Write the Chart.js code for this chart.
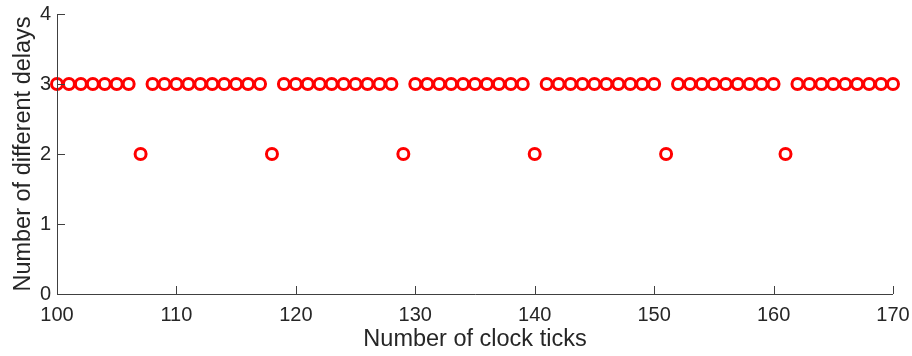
<!DOCTYPE html>
<html>
<head>
<meta charset="utf-8">
<script src="https://cdn.jsdelivr.net/npm/chart.js@4"></script>
<style>
  html, body { margin: 0; padding: 0; background: #fff; }
  #wrap { width: 912px; height: 356px; }
</style>
</head>
<body>
<div id="wrap"><canvas id="delayChart" width="912" height="356"></canvas></div>
<script>
// clock ticks 100..170 and number of different delays at each
const clockTicks = [100, 101, 102, 103, 104, 105, 106, 107, 108, 109,
  110, 111, 112, 113, 114, 115, 116, 117, 118, 119,
  120, 121, 122, 123, 124, 125, 126, 127, 128, 129,
  130, 131, 132, 133, 134, 135, 136, 137, 138, 139,
  140, 141, 142, 143, 144, 145, 146, 147, 148, 149,
  150, 151, 152, 153, 154, 155, 156, 157, 158, 159,
  160, 161, 162, 163, 164, 165, 166, 167, 168, 169, 170];
const delayCounts = [3, 3, 3, 3, 3, 3, 3, 2, 3, 3,
  3, 3, 3, 3, 3, 3, 3, 3, 2, 3,
  3, 3, 3, 3, 3, 3, 3, 3, 3, 2,
  3, 3, 3, 3, 3, 3, 3, 3, 3, 3,
  2, 3, 3, 3, 3, 3, 3, 3, 3, 3,
  3, 2, 3, 3, 3, 3, 3, 3, 3, 3,
  3, 2, 3, 3, 3, 3, 3, 3, 3, 3, 3];
const xTicks = [100, 110, 120, 130, 140, 150, 160, 170];
const yTicks = [0, 1, 2, 3, 4];

const axisColor = "#404040";
const textColor = "#262626";
const fontFamily = "'Liberation Sans', Arial, Helvetica, sans-serif";

// matlab-like inward tick marks
const inwardTicks = {
  id: "inwardTicks",
  afterDatasetsDraw(chart) {
    const ctx = chart.ctx;
    const x = chart.scales.x;
    const y = chart.scales.y;
    ctx.save();
    ctx.strokeStyle = axisColor;
    ctx.lineWidth = 1;
    ctx.beginPath();
    ctx.moveTo(x.left + 0.5, y.top);
    ctx.lineTo(x.left + 0.5, y.bottom + 0.5);
    ctx.lineTo(x.right, y.bottom + 0.5);
    xTicks.forEach((v) => {
      const px = Math.round(x.getPixelForValue(v)) + 0.5;
      ctx.moveTo(px, y.bottom);
      ctx.lineTo(px, y.bottom - 8);
    });
    yTicks.forEach((v) => {
      const py = Math.round(y.getPixelForValue(v)) + 0.5;
      ctx.moveTo(x.left, py);
      ctx.lineTo(x.left + 8, py);
    });
    ctx.stroke();
    ctx.restore();
  },
};

const points = clockTicks.map((t, i) => ({ x: t, y: delayCounts[i] }));

new Chart(document.getElementById("delayChart"), {
  type: "scatter",
  data: {
    datasets: [
      {
        data: points,
        pointRadius: 5.5,
        pointBorderWidth: 3,
        pointBorderColor: "#ff0000",
        pointBackgroundColor: "rgba(0,0,0,0)",
        pointHoverRadius: 5.5,
      },
    ],
  },
  options: {
    responsive: false,
    animation: false,
    clip: false,
    layout: { padding: { top: 14, right: 19, bottom: 0, left: 0 } },
    plugins: { legend: { display: false }, tooltip: { enabled: false } },
    scales: {
      x: {
        type: "linear",
        min: 100,
        max: 170,
        afterBuildTicks: (s) => { s.ticks = xTicks.map((v) => ({ value: v })); },
        afterFit: (s) => { s.height = 62; s.paddingLeft = 0; s.paddingRight = 0; },
        grid: { display: false, drawTicks: false },
        border: { display: false },
        ticks: { color: textColor, padding: 9, font: { family: fontFamily, size: 20 }, maxRotation: 0 },
        title: {
          display: true,
          text: "Number of clock ticks",
          color: textColor,
          font: { family: fontFamily, size: 23.5 },
          padding: { top: 0, bottom: 2 },
        },
      },
      y: {
        min: 0,
        max: 4,
        afterBuildTicks: (s) => { s.ticks = yTicks.map((v) => ({ value: v })); },
        afterFit: (s) => { s.width = 57; s.paddingTop = 0; s.paddingBottom = 0; },
        grid: { display: false, drawTicks: false },
        border: { display: false },
        ticks: { color: textColor, padding: 6, font: { family: fontFamily, size: 20 } },
        title: {
          display: true,
          text: "Number of different delays",
          color: textColor,
          font: { family: fontFamily, size: 23.5 },
          padding: { top: 9, bottom: 0 },
        },
      },
    },
  },
  plugins: [inwardTicks],
});
</script>
</body>
</html>
